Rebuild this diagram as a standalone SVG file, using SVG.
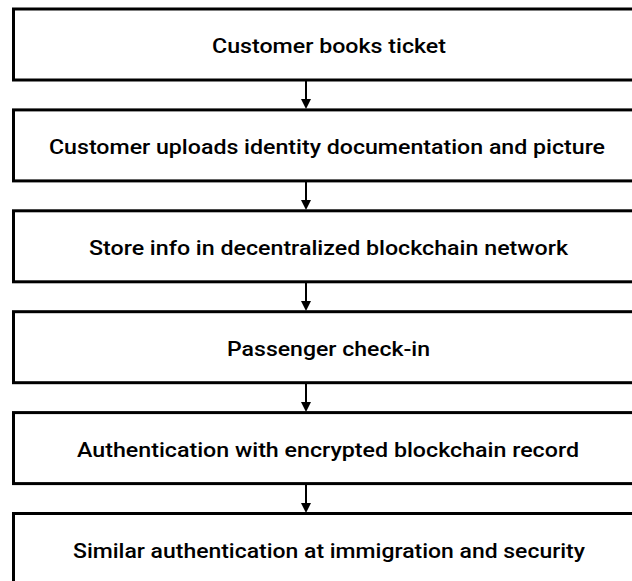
<svg xmlns="http://www.w3.org/2000/svg" width="632" height="581" viewBox="0 0 632 581">
  <style>
    .box { fill: #ffffff; stroke: #000000; stroke-width: 3; }
    .label { font-family: Roboto, "Liberation Sans", Arial, sans-serif; font-weight: 500; font-size: 21px; fill: #000000; text-anchor: middle; }
    .link { stroke: #000000; stroke-width: 2; fill: none; }
    .head { fill: #000000; }
  </style>
  <rect width="632" height="581" fill="#ffffff"/>

  <g id="step1">
    <rect class="box" x="13.5" y="9" width="640" height="71"/>
    <text class="label" x="329" y="53" textLength="234" lengthAdjust="spacingAndGlyphs">Customer books ticket</text>
  </g>
  <g id="step2">
    <rect class="box" x="13.5" y="109.9" width="640" height="71"/>
    <text class="label" x="327" y="154" textLength="556" lengthAdjust="spacingAndGlyphs">Customer uploads identity documentation and picture</text>
  </g>
  <g id="step3">
    <rect class="box" x="13.5" y="210.8" width="640" height="71"/>
    <text class="label" x="328.5" y="254.5" textLength="479" lengthAdjust="spacingAndGlyphs">Store info in decentralized blockchain network</text>
  </g>
  <g id="step4">
    <rect class="box" x="13.5" y="311.7" width="640" height="71"/>
    <text class="label" x="328.5" y="356" textLength="203" lengthAdjust="spacingAndGlyphs">Passenger check-in</text>
  </g>
  <g id="step5">
    <rect class="box" x="13.5" y="412.6" width="640" height="71"/>
    <text class="label" x="328" y="457" textLength="502" lengthAdjust="spacingAndGlyphs">Authentication with encrypted blockchain record</text>
  </g>
  <g id="step6">
    <rect class="box" x="13.5" y="513.5" width="640" height="71"/>
    <text class="label" x="329" y="558" textLength="512" lengthAdjust="spacingAndGlyphs">Similar authentication at immigration and security</text>
  </g>

  <g id="connectors">
    <line class="link" x1="306" y1="80" x2="306" y2="100"/>
    <polygon class="head" points="301,99 311,99 306,109"/>
    <line class="link" x1="306" y1="181" x2="306" y2="201"/>
    <polygon class="head" points="301,200 311,200 306,210"/>
    <line class="link" x1="306" y1="282" x2="306" y2="302"/>
    <polygon class="head" points="301,301 311,301 306,311"/>
    <line class="link" x1="306" y1="383" x2="306" y2="403"/>
    <polygon class="head" points="301,402 311,402 306,412"/>
    <line class="link" x1="306" y1="484" x2="306" y2="504"/>
    <polygon class="head" points="301,503 311,503 306,513"/>
  </g>
</svg>
